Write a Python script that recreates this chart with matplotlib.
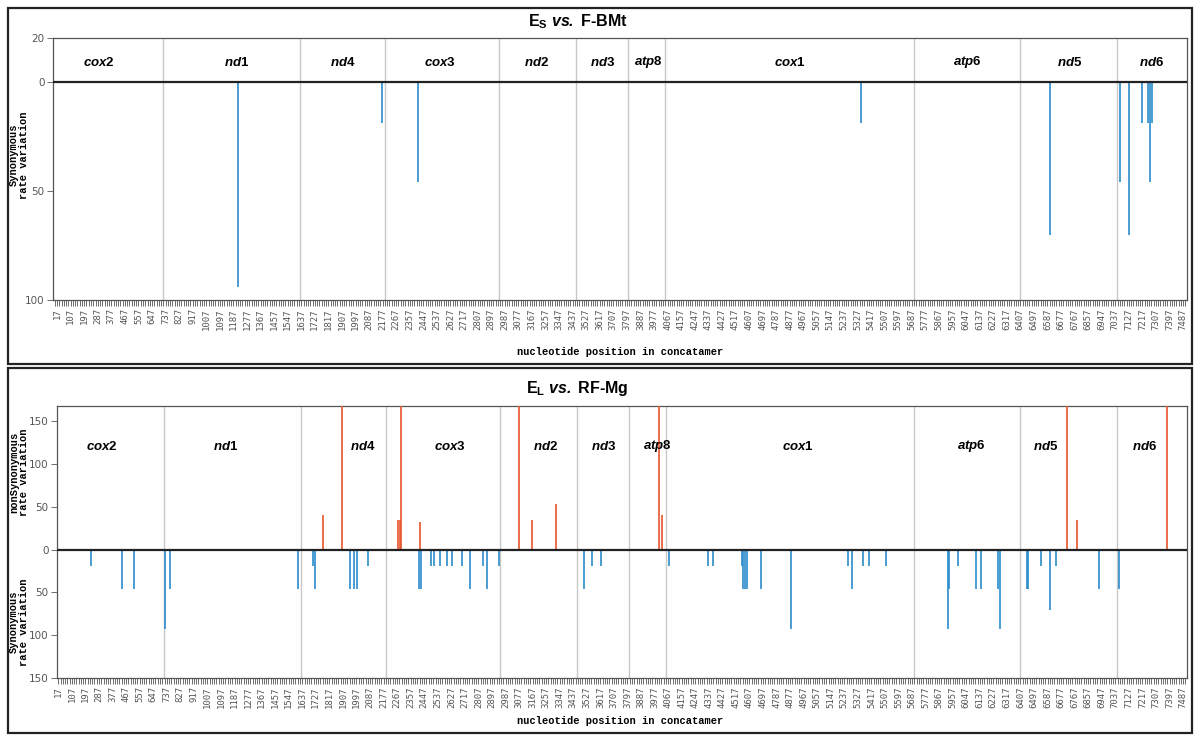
import matplotlib
matplotlib.use('Agg')
import matplotlib.pyplot as plt
from matplotlib.patches import Rectangle
from matplotlib.ticker import FixedLocator

plt.rcParams['mathtext.fontset'] = 'custom'
plt.rcParams['mathtext.rm'] = 'Liberation Sans'
plt.rcParams['mathtext.bf'] = 'Liberation Sans:bold'
plt.rcParams['mathtext.it'] = 'Liberation Sans:italic'
plt.rcParams['mathtext.bfit'] = 'Liberation Sans:italic:bold'

# gene blocks along the concatamer
genes = ['cox2', 'nd1', 'nd4', 'cox3', 'nd2', 'nd3', 'atp8', 'cox1', 'atp6', 'nd5', 'nd6']
gene_bounds = [717, 1629, 2193, 2949, 3460, 3805, 4050, 5702, 6406, 7049]

# E_S vs F-BMt : synonymous rate variation (plotted downwards)
top_syn_pos = [1220, 2171, 2412, 5351, 6605, 7069, 7129, 7215, 7255, 7268, 7281]
top_syn_val = [94, 19, 46, 19, 70, 46, 70, 19, 19, 46, 19]

# E_L vs RF-Mg : synonymous (down) and nonsynonymous (up)
bot_syn_pos = [236, 440, 519, 722, 758, 1609, 1709, 1722, 1952, 1979, 2001, 2074,
               2412, 2425, 2491, 2509, 2553, 2596, 2631, 2695, 2750, 2834, 2861, 2943,
               3506, 3562, 3619, 4072, 4329, 4367, 4557, 4566, 4575, 4594, 4687, 4884,
               5264, 5289, 5364, 5402, 5517, 5923, 5933, 5990, 6112, 6147, 6258, 6271,
               6450, 6459, 6545, 6603, 6642, 6928, 7062]
bot_syn_val = [19, 46, 46, 93, 46, 46, 19, 46, 46, 46, 46, 19,
               46, 46, 19, 19, 19, 19, 19, 19, 46, 19, 46, 19,
               46, 19, 19, 19, 19, 19, 19, 46, 46, 46, 46, 93,
               19, 46, 19, 19, 19, 93, 46, 19, 46, 46, 46, 93,
               46, 46, 19, 70, 19, 46, 46]
bot_non_pos = [1777, 1899, 2275, 2284, 2290, 2417, 3077, 3160, 3319, 4006, 4026, 6713, 6784, 7379]
bot_non_val = [40, 200, 35, 35, 200, 32, 200, 35, 54, 200, 40, 200, 35, 200]

top_label_x = [296, 1211, 1914, 2558, 3195, 3639, 3938, 4880, 6054, 6731, 7281]
bot_label_x = [309, 1125, 2040, 2618, 3254, 3639, 3997, 4926, 6080, 6571, 7228]

xticks = list(range(17, 7488, 90))

BLUE = '#2a8bcb'
RED = '#e8552d'
W, H = 1200, 740

fig = plt.figure(figsize=(12, 7.4), dpi=100)


def gene_label(name):
    head = name.rstrip('0123456789')
    tail = name[len(head):]
    return r'$\mathbfit{%s}\mathbf{%s}$' % (head, tail)


def setup_axis(ax, xmin):
    ax.set_xlim(xmin, 7513)
    ax.set_xticks(xticks)
    ax.set_xticklabels([str(t) for t in xticks], rotation=90, fontsize=6.5,
                       family='DejaVu Sans Mono', color='#555555')
    ax.xaxis.set_minor_locator(FixedLocator(list(range(2, 7513, 15))))
    ax.tick_params(axis='x', which='both', length=4, width=0.6, color='#555555', pad=2)
    ax.tick_params(axis='y', length=4, width=0.6, color='#555555', labelsize=7.5,
                   labelcolor='#555555', pad=2)
    for s in ax.spines.values():
        s.set_color('#555555')
        s.set_linewidth(0.9)
    for b in gene_bounds:
        ax.axvline(b, color='#c8c8c8', lw=1, zorder=1)
    ax.axhline(0, color='#222222', lw=1.6, zorder=4)


def px_axes(left, top, right, bottom):
    return fig.add_axes([left / W, 1 - bottom / H, (right - left) / W, (bottom - top) / H])


# ---------- top panel ----------
ax1 = px_axes(53, 38, 1187, 300)
setup_axis(ax1, -10)
ax1.vlines(top_syn_pos, 0, [-v for v in top_syn_val], color=BLUE, lw=1.2, zorder=3)
ax1.set_ylim(-100, 20)
ax1.set_yticks([-100, -50, 0, 20])
ax1.set_yticklabels(['100', '50', '0', '20'])
for g, x in zip(genes, top_label_x):
    ax1.text(x, 9, gene_label(g), ha='center', va='center', fontsize=9.5)

# ---------- bottom panel ----------
ax2 = px_axes(57, 406, 1187, 678)
setup_axis(ax2, 8)
ax2.vlines(bot_syn_pos, 0, [-v for v in bot_syn_val], color=BLUE, lw=1.2, zorder=3)
ax2.vlines(bot_non_pos, 0, bot_non_val, color=RED, lw=1.2, zorder=3)
ax2.set_ylim(-150, 168)
ax2.set_yticks([-150, -100, -50, 0, 50, 100, 150])
ax2.set_yticklabels(['150', '100', '50', '0', '50', '100', '150'])
for g, x in zip(genes, bot_label_x):
    ax2.text(x, 121, gene_label(g), ha='center', va='center', fontsize=9.5)

# titles
fig.text(578 / W, 1 - 22 / H, r'E$_\mathbf{S}$ $\mathbfit{vs.}$ F-BMt', ha='center', va='center',
         fontsize=11.5, fontweight='bold', family='Liberation Sans')
fig.text(577 / W, 1 - 388 / H, r'E$_\mathbf{L}$ $\mathbfit{vs.}$ RF-Mg', ha='center', va='center',
         fontsize=11.5, fontweight='bold', family='Liberation Sans')

# axis labels
lab_kw = dict(rotation=90, ha='center', va='center', fontsize=7.5,
              family='Liberation Mono', fontweight='bold', linespacing=1.0)
fig.text(19 / W, 1 - 155 / H, 'Synonymous\nrate variation', **lab_kw)
fig.text(19 / W, 1 - 472 / H, 'nonSynonymous\nrate variation', **lab_kw)
fig.text(19 / W, 1 - 622 / H, 'Synonymous\nrate variation', **lab_kw)
fig.text(620 / W, 1 - 352 / H, 'nucleotide position in concatamer', ha='center', va='center',
         fontsize=7.5, family='Liberation Mono', fontweight='bold')
fig.text(620 / W, 1 - 721 / H, 'nucleotide position in concatamer', ha='center', va='center',
         fontsize=7.5, family='Liberation Mono', fontweight='bold')

# panel frames
for top, bottom in [(8, 364), (368, 733)]:
    fig.patches.append(Rectangle((8 / W, 1 - bottom / H), 1184 / W, (bottom - top) / H,
                                 transform=fig.transFigure, fill=False,
                                 edgecolor='#222222', lw=1.6))

fig.savefig('out.png', dpi=100)
